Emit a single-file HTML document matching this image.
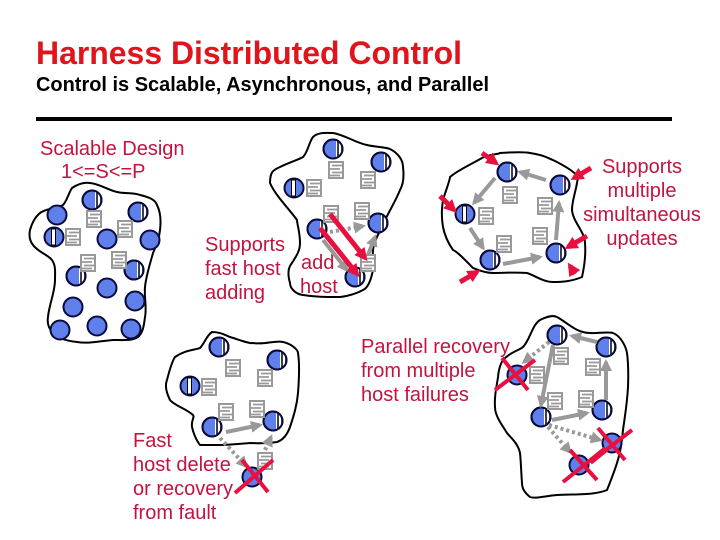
<!DOCTYPE html>
<html><head><meta charset="utf-8"><style>
html,body{margin:0;padding:0;background:#fff;width:720px;height:540px;overflow:hidden}
svg{display:block}
text{font-family:"Liberation Sans",sans-serif}
.t{font-size:20px;fill:#c2143f}
.b{fill:none;stroke:#000;stroke-width:2}
.g{stroke:#999;stroke-width:4;fill:none}
.gd{stroke:#999;stroke-width:4;fill:none;stroke-dasharray:3 3}
.r{stroke:#e8103f;stroke-width:5;fill:none}
.x{stroke:#e8103f;stroke-width:4;fill:none}
</style></head><body>
<svg width="720" height="540" viewBox="0 0 720 540" xmlns="http://www.w3.org/2000/svg">
<defs>
<marker id="ag" markerUnits="userSpaceOnUse" markerWidth="14" markerHeight="14" refX="9" refY="6" orient="auto"><path d="M0 0L12 6L0 12z" fill="#999"/></marker>
<marker id="ar" markerUnits="userSpaceOnUse" markerWidth="14" markerHeight="14" refX="9" refY="6.500" orient="auto"><path d="M0 0L13 6.500L0 13z" fill="#e8103f"/></marker>
<g id="n"><circle r="9.5" fill="#5f80ea" stroke="#0a0a3c" stroke-width="2"/></g>
<g id="h"><circle r="9.5" fill="#5f80ea" stroke="#0a0a3c" stroke-width="2"/><path d="M3-9A9.5 9.5 0 0 1 3 9z" fill="#fff"/><path d="M5-8V8" stroke="#000" stroke-width="1.5"/><path d="M8.5-5V5" stroke="#666" stroke-width="1"/><circle r="9.5" fill="none" stroke="#0a0a3c" stroke-width="2"/></g>
<g id="l"><circle r="9.5" fill="#5f80ea" stroke="#0a0a3c" stroke-width="2"/><rect x="-2.5" y="-8" width="4" height="16" fill="#fff" stroke="#000" stroke-width="1"/></g>
<g id="d"><rect x="-7" y="-8" width="14" height="16" fill="#fff" stroke="#999" stroke-width="2"/><path d="M-4-4.500H7M-7-1H4M-4 2.500H7M-7 5.500H4" stroke="#999" stroke-width="1.800"/></g>
</defs>

<text x="36" y="64" font-size="32" font-weight="bold" fill="#e0141c" textLength="426" lengthAdjust="spacingAndGlyphs">Harness Distributed Control</text>
<text x="36" y="91" font-size="20" font-weight="bold" fill="#000" textLength="453" lengthAdjust="spacingAndGlyphs">Control is Scalable, Asynchronous, and Parallel</text>
<rect x="36" y="117" width="636" height="4" fill="#000"/>

<path class="b" d="M72 188C78 184 84 182 90 183C100 184 108 190 117 192C125 194 133 192 140 195C148 197 155 199 157 205C161 213 161 222 160 230C159 240 156 246 153 253C150 264 146 276 145 287C144 297 147 307 145 317C144 325 143 333 138 337C132 341 122 340 113 340C100 341 88 344 77 342C68 341 58 339 53 333C48 328 47 323 48 317C49 305 55 292 55 280C55 272 56 266 52 260C47 254 38 252 33 245C29 240 29 235 30 230C32 223 35 217 40 213C47 208 56 209 63 205C67 201 69 192 72 188Z"/>
<path class="b" d="M313 137C318 132 326 133 333 133C345 135 356 143 367 145C375 147 385 147 390 149C398 153 403 160 403 167C404 175 404 183 400 190C396 200 390 210 385 220C381 230 374 240 373 250C372 258 375 264 373 270C371 280 368 288 363 290C352 296 340 297 340 297C325 297 315 297 303 295C295 294 290 288 290 283C288 276 288 270 290 266C295 258 300 252 300 243C300 232 297 224 297 220C290 210 275 195 270 183C270 172 273 170 280 167C290 162 298 160 303 157C308 152 309 142 313 137Z"/>
<path class="b" d="M482 158C490 154 500 154 500 153C515 152 525 152 530 153C545 155 552 160 553 160C565 166 575 172 578 177C576 192 572 200 572 210C573 222 585 232 585 243C586 255 584 268 582 277C570 282 560 282 553 282C543 282 534 275 527 273C515 272 505 273 493 273C485 273 478 270 473 268C465 260 458 252 453 250C446 240 444 232 443 227C441 215 442 207 443 200C446 190 450 180 450 177C458 170 470 165 482 158Z"/>
<path class="b" d="M540 320C548 316 553 315 557 317C566 322 574 330 583 332C593 335 605 331 613 333C621 336 626 347 627 353C629 368 628 385 628 387C627 405 625 415 623 430C621 450 620 458 607 490C595 495 580 494 557 495C545 496 535 499 530 497C524 492 522 488 522 483C521 470 521 462 520 453C518 443 510 437 507 433C500 422 495 415 495 407C494 395 497 385 498 377C499 365 503 360 503 360C510 352 520 350 523 347C530 340 532 325 540 320Z"/>
<path class="b" d="M212 332C220 332 225 335 230 337C240 340 250 344 253 343C265 345 275 340 283 342C292 344 298 350 298 353C300 365 299 380 298 393C297 405 294 415 290 427C286 438 280 441 277 442C265 444 255 443 250 443C238 444 228 445 220 445C210 445 205 445 200 445C196 440 193 432 192 427C191 420 195 417 193 415C185 408 175 406 170 400C166 392 165 385 167 380C170 368 173 360 175 357C185 350 195 350 200 348C205 343 206 336 212 332Z"/>

<text class="t" x="40" y="155">Scalable Design</text>
<text class="t" x="61" y="178">1&lt;=S&lt;=P</text>
<use href="#h" x="92" y="200"/><use href="#h" x="138" y="212"/><use href="#l" x="54" y="237"/><use href="#h" x="76" y="276"/><use href="#h" x="134" y="270"/>
<use href="#n" x="57" y="215"/><use href="#n" x="107" y="239"/><use href="#n" x="150" y="240"/><use href="#n" x="107" y="288"/><use href="#n" x="73" y="307"/><use href="#n" x="135" y="301"/><use href="#n" x="60" y="330"/><use href="#n" x="97" y="326"/><use href="#n" x="131" y="329"/>
<use href="#d" x="94" y="219"/><use href="#d" x="125" y="229"/><use href="#d" x="73" y="237"/><use href="#d" x="88" y="263"/><use href="#d" x="119" y="260"/>

<text class="t" x="205" y="251">Supports</text>
<text class="t" x="205" y="275">fast host</text>
<text class="t" x="205" y="299">adding</text>
<text class="t" x="301" y="269">add</text>
<text class="t" x="300" y="293">host</text>
<use href="#h" x="333" y="149"/><use href="#h" x="381" y="162"/><use href="#l" x="294" y="188"/><use href="#h" x="317" y="229"/><use href="#h" x="378" y="223"/><use href="#h" x="355" y="277"/>
<use href="#d" x="336" y="170"/><use href="#d" x="368" y="180"/><use href="#d" x="314" y="188"/><use href="#d" x="331" y="214"/><use href="#d" x="362" y="211"/><use href="#d" x="368" y="263"/>
<path class="gd" d="M330 232L363 226" marker-end="url(#ag)"/>
<path class="g" d="M323 240L347 270" marker-end="url(#ag)"/>
<path class="g" d="M368 255L375 237" marker-end="url(#ag)"/>
<path class="r" d="M330 214L365 258" marker-end="url(#ar)"/>
<path class="r" d="M320 228L357 274" marker-end="url(#ar)"/>

<use href="#h" x="507" y="172"/><use href="#h" x="560" y="185"/><use href="#l" x="465" y="214"/><use href="#h" x="490" y="260"/><use href="#h" x="556" y="253"/>
<use href="#d" x="510" y="195"/><use href="#d" x="545" y="206"/><use href="#d" x="486" y="216"/><use href="#d" x="504" y="244"/><use href="#d" x="540" y="236"/>
<path class="g" d="M546 180L520 172" marker-end="url(#ag)"/>
<path class="g" d="M495 178L474 203" marker-end="url(#ag)"/>
<path class="g" d="M470 228L483 248" marker-end="url(#ag)"/>
<path class="g" d="M503 264L540 257" marker-end="url(#ag)"/>
<path class="g" d="M556 240L559 203" marker-end="url(#ag)"/>
<path class="r" d="M482 153L496 163" marker-end="url(#ar)"/>
<path class="r" d="M591 168L574 178" marker-end="url(#ar)"/>
<path class="r" d="M440 196L454 210" marker-end="url(#ar)"/>
<path class="r" d="M460 282L477 272" marker-end="url(#ar)"/>
<path class="r" d="M587 236L568 247" marker-end="url(#ar)"/>
<path class="r" d="M575 274L570 266" marker-end="url(#ar)"/>
<text class="t" x="642" y="173" text-anchor="middle">Supports</text>
<text class="t" x="642" y="197" text-anchor="middle">multiple</text>
<text class="t" x="642" y="221" text-anchor="middle">simultaneous</text>
<text class="t" x="642" y="245" text-anchor="middle">updates</text>

<text class="t" x="361" y="353">Parallel recovery</text>
<text class="t" x="361" y="377">from multiple</text>
<text class="t" x="361" y="401">host failures</text>
<use href="#h" x="557" y="335"/><use href="#h" x="606" y="347"/><use href="#n" x="517" y="375"/><use href="#h" x="541" y="417"/><use href="#h" x="602" y="410"/><use href="#n" x="612" y="443"/><use href="#n" x="579" y="465"/>
<use href="#d" x="561" y="356"/><use href="#d" x="537" y="375"/><use href="#d" x="555" y="401"/><use href="#d" x="586" y="399"/><use href="#d" x="593" y="367"/>
<path class="gd" d="M549 342L524 362" marker-end="url(#ag)"/>
<path class="g" d="M553 345L541 405" marker-end="url(#ag)"/>
<path class="g" d="M606 400L606 362" marker-end="url(#ag)"/>
<path class="g" d="M597 342L572 336" marker-end="url(#ag)"/>
<path class="g" d="M552 420L587 413" marker-end="url(#ag)"/>
<path class="gd" d="M549 425L600 440" marker-end="url(#ag)"/>
<path class="gd" d="M548 427L570 452" marker-end="url(#ag)"/>
<path d="M590 462L606 449" stroke="#e8103f" stroke-width="6"/>
<path class="x" d="M502 358L528 390M535 360L495 390M598 428L625 460M632 430L593 460M570 450L597 480M563 482L603 450"/>

<use href="#h" x="219" y="347"/><use href="#h" x="277" y="360"/><use href="#l" x="190" y="386"/><use href="#h" x="212" y="427"/><use href="#h" x="273" y="421"/><use href="#n" x="252" y="477"/>
<use href="#d" x="233" y="368"/><use href="#d" x="265" y="378"/><use href="#d" x="209" y="387"/><use href="#d" x="226" y="412"/><use href="#d" x="257" y="409"/><use href="#d" x="265" y="461"/>
<path class="g" d="M226 432L260 425" marker-end="url(#ag)"/>
<path class="gd" d="M220 438L246 466" marker-end="url(#ag)"/>
<path class="gd" d="M265 450L271 437" marker-end="url(#ag)"/>
<path class="x" d="M242 460L268 492M273 460L235 493"/>
<text class="t" x="133" y="447">Fast</text>
<text class="t" x="133" y="471">host delete</text>
<text class="t" x="133" y="495">or recovery</text>
<text class="t" x="133" y="519">from fault</text>
</svg>
</body></html>
